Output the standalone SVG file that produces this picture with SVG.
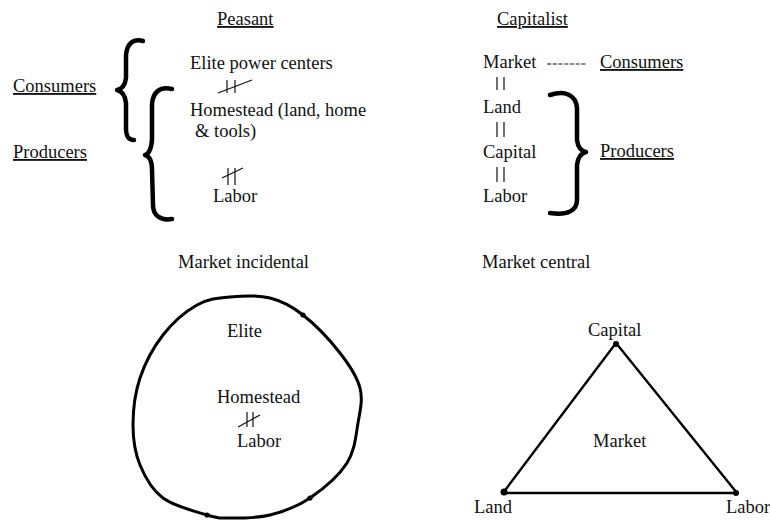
<svg xmlns="http://www.w3.org/2000/svg" width="770" height="522" viewBox="0 0 770 522">
<style>
text{font-family:"Liberation Serif","Times New Roman",serif;font-size:18.5px;fill:#111}
.u{text-decoration:underline}
.br{fill:none;stroke:#000;stroke-width:4.5;stroke-linecap:round;stroke-linejoin:round}
.ln{fill:none;stroke:#111;stroke-width:1.2}
.sh{fill:none;stroke:#000;stroke-width:3}
</style>
<rect width="770" height="522" fill="#fff"/>
<g id="titles">
<text class="u" x="217" y="25">Peasant</text>
<text class="u" x="497" y="25">Capitalist</text>
<text x="178" y="268">Market incidental</text>
<text x="482" y="268">Market central</text>
</g>
<g id="peasant">
<g id="consumers-left"><text class="u" x="13" y="92">Consumers</text></g>
<g id="producers-left"><text class="u" x="13" y="158">Producers</text></g>
<g id="elite-power"><text x="190" y="69">Elite power centers</text></g>
<g id="homestead"><text x="190" y="116">Homestead (land, home</text><text x="195" y="137">&amp; tools)</text></g>
<g id="labor-left"><text x="213" y="202">Labor</text></g>
<path class="br" d="M143,41 C133,38 127,44 126,55 L126,78 C125,86 122,89 117,90 C122,91 125,95 126,103 L126,128 C126,136 128,140 134,140"/>
<path class="br" d="M172,89 C160,86 153,92 152,104 L152,140 C151,150 149,154 145,155 C149,156 152,161 152,170 L153,205 C153,215 160,221 172,219"/>
</g>
<g id="capitalist">
<g id="market-top"><text x="483" y="68">Market</text></g>
<g id="consumers-right"><text class="u" x="600" y="68">Consumers</text></g>
<g id="land-right"><text x="483" y="113">Land</text></g>
<g id="capital-right"><text x="483" y="158">Capital</text></g>
<g id="labor-right"><text x="483" y="202">Labor</text></g>
<g id="producers-right"><text class="u" x="600" y="157">Producers</text></g>
<path class="br" d="M550,95 C565,90 576,95 577,108 L577,140 C578,148 581,151 586,152 C581,153 578,157 577,165 L577,200 C577,210 568,216 550,213"/>
</g>
<g id="connectors">
<line class="ln" x1="547" y1="64" x2="586" y2="64" stroke-dasharray="4.2,1.5"/>
<path class="ln" d="M497,77V90M504,77V90M497,122V137M504,122V137M497,167V182M504,167V182"/>
<path class="ln" d="M227,80V93M235,80V93M218,93L252,80"/>
<path class="ln" d="M228,168V185M235,168V185M222,178L243,168"/>
<path class="ln" d="M247,412V427M253,412V427M238,427L260,415"/>
</g>
<g id="circle">
<path class="sh" d="M230,297 C242.2,295.8 257.8,295 270,298 C282.2,301 291.3,305.8 303,315 C314.7,324.2 330.5,340.8 340,353 C349.5,365.2 357,376.3 360,388 C363,399.7 360.2,410.5 358,423 C355.8,435.5 355,450.5 347,463 C339,475.5 322.8,489.3 310,498 C297.2,506.7 283.3,511.7 270,515 C256.7,518.3 240.5,518 230,518 C219.5,518 218.2,518.3 207,515 C195.8,511.7 174.2,506.3 163,498 C151.8,489.7 145,477.2 140,465 C135,452.8 133,439.5 133,425 C133,410.5 135,393 140,378 C145,363 153.5,347.2 163,335 C172.5,322.8 185.8,311.3 197,305 C208.2,298.7 217.8,298.2 230,297 Z"/>
<circle cx="303" cy="315" r="2.6"/>
<circle cx="310" cy="498" r="2.6"/>
<circle cx="207" cy="515" r="2.6"/>
<g id="elite"><text x="227" y="337">Elite</text></g>
<g id="homestead-c"><text x="217" y="403">Homestead</text></g>
<g id="labor-c"><text x="237" y="447">Labor</text></g>
</g>
<g id="triangle">
<path fill="none" stroke="#000" stroke-width="2.4" stroke-linejoin="round" d="M616,343 L737,493 L503,493 Z"/>
<circle cx="616" cy="344" r="3"/>
<circle cx="504" cy="492" r="3.5"/>
<circle cx="736" cy="493" r="3"/>
<g id="capital-t"><text x="588" y="336">Capital</text></g>
<g id="market-t"><text x="593" y="447">Market</text></g>
<g id="land-t"><text x="474" y="513">Land</text></g>
<g id="labor-t"><text x="726" y="513">Labor</text></g>
</g>
</svg>
